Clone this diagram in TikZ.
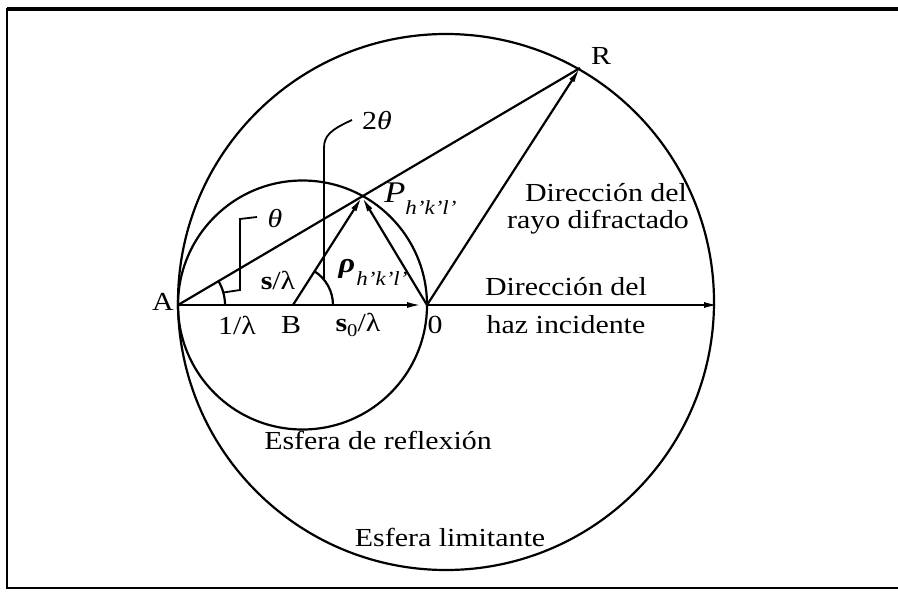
\documentclass[tikz,border=0pt]{standalone}
\usepackage{fontspec}
\setmainfont{Liberation Serif}[FakeStretch=1.15]
\usetikzlibrary{arrows.meta}
\begin{document}
\begin{tikzpicture}[x=1pt,y=-1pt,
  ln/.style={line width=2.2pt},
  arr/.style={ln,-{Latex[length=15pt,width=6pt]}},
  lbl/.style={inner sep=0pt,font=\fontsize{26}{30}\selectfont},
  sub/.style={inner sep=0pt,font=\fontsize{20}{24}\selectfont\itshape},
]
\useasboundingbox (0,0) rectangle (898,592);
% frame
\draw[line width=3.5pt] (905,9) -- (7,9);
\draw[line width=2pt] (7,8) -- (7,588) -- (905,588);
% key points
\coordinate (A) at (178,305);
\coordinate (O) at (427,305);
\coordinate (B) at (293,305);
\coordinate (C) at (302.5,305);
\coordinate (P) at (362,197);
\coordinate (R) at (580,68);
\coordinate (E) at (719,305);
\coordinate (L) at (446,302);
% spheres
\draw[ln] (L) circle[radius=268pt];
\draw[ln] (C) circle[radius=124.5pt];
% lines
\draw[ln] (A) -- (R);
\draw[arr] (A) -- ([xshift=-5pt]O);
\draw[arr] (O) -- (E);
\draw[arr] (O) -- (R);
\draw[arr] (B) -- (P);
\draw[arr] (O) -- (P);
% angle arcs
\draw[ln] (A) ++(47pt,0pt) arc[start angle=0,end angle=30.5,radius=47pt];
\draw[ln] (B) ++(40pt,0pt) arc[start angle=0,end angle=57.4,radius=40pt];
% leaders
\coordinate (t1) at (223.5,292.5);
\coordinate (t2) at (240,290);
\coordinate (t3) at (240,219);
\coordinate (t4) at (257,217);
\draw[line width=1.8pt] (t1) -- (t2) -- (t3) -- (t4);
\coordinate (u1) at (324,280);
\coordinate (u2) at (324,148);
\coordinate (u3) at (352,120);
\draw[line width=1.8pt] (u1) -- (u2) .. controls (324,136) and (330,130) .. (u3);
% labels
\node[lbl] (lA) at (163,302) {A};
\node[lbl] (lR) at (601,56) {R};
\node[lbl] (l1) at (237,325) {1/λ};
\node[lbl] (lB) at (291,325) {B};
\node[lbl] (ls0) at (358,325) {\textbf{s}\raisebox{-5pt}{\fontsize{18}{20}\selectfont 0}/λ};
\node[lbl] (lO) at (435,325) {0};
\node[lbl] (ls) at (278,280) {\textbf{s}/λ};
\node[lbl] (lth) at (275,219) {\itshape θ};
\node[lbl] (l2th) at (377,121) {2\itshape θ};
\node[lbl,font=\fontsize{30}{32}\selectfont\itshape] (lP) at (395,193) {P};
\node[sub] (lPs) at (431,208) {h'k'l'};
\node[lbl,font=\fontsize{28}{30}\selectfont\bfseries\itshape] (lrho) at (347,269) {ρ};
\node[sub] (lrhos) at (382,279) {h'k'l'};
\node[lbl] (d1) at (606,193) {Dirección del};
\node[lbl] (d2) at (598,222) {rayo difractado};
\node[lbl] (d3) at (566,287) {Dirección del};
\node[lbl] (d4) at (566,325) {haz incidente};
\node[lbl] (e1) at (378,440) {Esfera de reflexión};
\node[lbl] (e2) at (450,537) {Esfera limitante};
\end{tikzpicture}
\end{document}
